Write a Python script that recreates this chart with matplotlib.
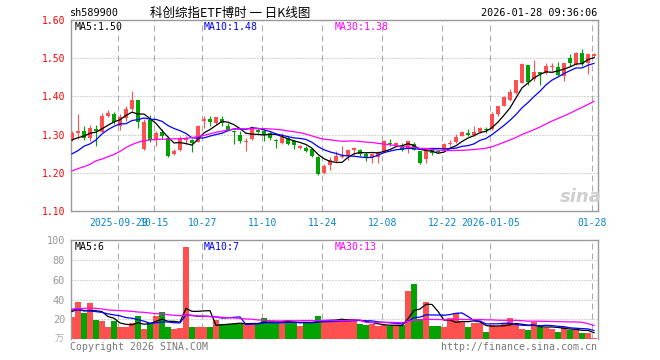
import matplotlib
matplotlib.use("Agg")
import matplotlib.pyplot as plt
import numpy as np

plt.rcParams['lines.scale_dashes'] = False

# ---------------- data ----------------
opens = [1.2887, 1.3043, 1.3096, 1.2904, 1.3148, 1.3078, 1.3496, 1.354, 1.3235, 1.3426,
         1.367, 1.390, 1.2626, 1.338, 1.2887, 1.3078, 1.2913, 1.2496, 1.2609, 1.2861,
         1.286, 1.2817, 1.336, 1.341, 1.331, 1.341, 1.3236, 1.3095, 1.300, 1.2817,
         1.289, 1.313, 1.310, 1.304, 1.287, 1.278, 1.291, 1.2826, 1.265, 1.265,
         1.261, 1.2417, 1.200, 1.2217, 1.2304, 1.2417, 1.2433, 1.2607, 1.259, 1.2503,
         1.2415, 1.2415, 1.258, 1.2782, 1.272, 1.2738, 1.2625, 1.2764, 1.2564, 1.2363,
         1.259, 1.2564, 1.2607, 1.2764, 1.280, 1.2974, 1.3035, 1.2991, 1.3061, 1.3148,
         1.3148, 1.3539, 1.3757, 1.3913, 1.4087, 1.4348, 1.4817, 1.4452, 1.4626, 1.4609,
         1.4757, 1.4757, 1.4539, 1.500, 1.4843, 1.5148, 1.487, 1.506]
highs = [1.3096, 1.354, 1.3235, 1.325, 1.325, 1.3565, 1.3643, 1.36, 1.354, 1.3757,
         1.4148, 1.390, 1.3409, 1.351, 1.31, 1.315, 1.297, 1.261, 1.297, 1.297,
         1.2887, 1.326, 1.348, 1.3496, 1.347, 1.348, 1.330, 1.312, 1.3087, 1.291,
         1.3225, 1.317, 1.316, 1.308, 1.289, 1.304, 1.2957, 1.285, 1.274, 1.2696,
         1.265, 1.2435, 1.2243, 1.2417, 1.2565, 1.2696, 1.2625, 1.2668, 1.2625, 1.2537,
         1.252, 1.2564, 1.287, 1.2887, 1.281, 1.278, 1.2843, 1.280, 1.258, 1.265,
         1.2625, 1.2607, 1.278, 1.285, 1.3017, 1.3104, 1.3148, 1.3217, 1.3191, 1.3191,
         1.3583, 1.3757, 1.4017, 1.4191, 1.4435, 1.487, 1.4817, 1.4957, 1.4626, 1.4887,
         1.487, 1.4904, 1.4887, 1.5104, 1.5165, 1.5235, 1.513, 1.513]
lows = [1.2843, 1.2887, 1.287, 1.2843, 1.2713, 1.306, 1.345, 1.328, 1.313, 1.3365,
        1.3626, 1.3165, 1.26, 1.28, 1.2696, 1.2887, 1.2426, 1.247, 1.2583, 1.2757,
        1.2557, 1.28, 1.318, 1.3217, 1.329, 1.3235, 1.3087, 1.2757, 1.277, 1.2564,
        1.286, 1.304, 1.283, 1.285, 1.265, 1.276, 1.274, 1.261, 1.2635, 1.254,
        1.2417, 1.194, 1.1957, 1.207, 1.226, 1.239, 1.2346, 1.2476, 1.2433, 1.230,
        1.2258, 1.2258, 1.2564, 1.2712, 1.2695, 1.2564, 1.252, 1.259, 1.223, 1.2258,
        1.2476, 1.252, 1.259, 1.271, 1.2783, 1.2957, 1.2974, 1.2974, 1.3043, 1.3043,
        1.313, 1.3478, 1.3739, 1.3887, 1.4061, 1.4348, 1.4296, 1.4409, 1.4304, 1.4583,
        1.467, 1.4539, 1.4409, 1.48, 1.4817, 1.48, 1.4583, 1.5043]
closes = [1.3043, 1.3096, 1.2904, 1.3183, 1.3096, 1.3478, 1.3565, 1.334, 1.346, 1.367,
          1.390, 1.332, 1.334, 1.286, 1.3043, 1.2974, 1.245, 1.2583, 1.2904, 1.2913,
          1.2774, 1.3235, 1.340, 1.334, 1.345, 1.3305, 1.313, 1.307, 1.2825, 1.2843,
          1.320, 1.308, 1.300, 1.291, 1.283, 1.294, 1.2765, 1.274, 1.2696, 1.2565,
          1.245, 1.1957, 1.2174, 1.2348, 1.2435, 1.245, 1.2607, 1.265, 1.2503, 1.2407,
          1.2494, 1.2546, 1.2843, 1.2756, 1.278, 1.2607, 1.2825, 1.2607, 1.2258, 1.2625,
          1.252, 1.2546, 1.2764, 1.278, 1.293, 1.3078, 1.300, 1.3078, 1.3165, 1.3122,
          1.3539, 1.3739, 1.3974, 1.4122, 1.4435, 1.4843, 1.4383, 1.4626, 1.4583, 1.4783,
          1.4775, 1.4565, 1.487, 1.487, 1.5148, 1.4843, 1.5104, 1.5104]
volumes = [22.7, 37.8, 26.7, 36.8, 19.3, 18.7, 12.6, 18.3, 12.6, 12.6,
           16, 23.4, 10.6, 16, 23.7, 27.4, 12.6, 10.2, 11.6, 93.4,
           12.6, 12.6, 12.6, 12.6, 19.3, 15.3, 15.3, 15.3, 15.3, 16.6,
           16.6, 15.3, 21.7, 16.6, 16.6, 16.6, 19.3, 16.6, 13.3, 17.6,
           16, 23.4, 19.3, 18.5, 19.3, 20, 20, 19.3, 15.7, 14,
           15, 13.3, 14.7, 13.3, 13.3, 14, 48.3, 56, 20.7, 37.3,
           13, 13, 12, 21, 26, 17.3, 12, 16, 16, 7.3,
           14, 13.3, 16.7, 21, 14, 10, 9, 17.3, 12.7, 11.7,
           10.7, 6.7, 12.7, 9.3, 10, 6, 6, 1]

# moving-average values before the window is full
ma5_head = [1.286, 1.292, 1.296, 1.3035]
ma10_head = [1.2496, 1.258, 1.2696, 1.2757, 1.286, 1.3017, 1.313, 1.3217, 1.328]
ma30_head = [1.205, 1.211, 1.216, 1.222, 1.2315, 1.236, 1.242, 1.248, 1.256, 1.266,
             1.274, 1.280, 1.284, 1.286, 1.2875, 1.288, 1.288, 1.289, 1.289, 1.290,
             1.292, 1.295, 1.298, 1.302, 1.306, 1.309, 1.312, 1.314, 1.315]
vma5_head = [28.0, 30.0, 28.5, 29.0]
vma10_head = [29.5, 30.0, 29.0, 28.5, 27.8, 27.0, 25.5, 24.5, 23.5]
vma30_head = [30.5, 30.8, 31.1, 31.5, 31.1, 30.5, 29.5, 29.1, 28.8, 28.5,
              28.1, 27.4, 27.1, 26.4, 25.8, 25.4, 24.7, 24.1, 23.7, 24.4,
              23.7, 23.4, 23.1, 22.7, 22.4, 22.1, 21.7, 21.4, 21.0]

tick_idx = [8, 14, 22, 32, 42, 52, 62, 70, 87]
tick_labels = ["2025-09-29", "10-15", "10-27", "11-10", "11-24", "12-08",
               "12-22", "2026-01-05", "01-28"]
price_ticks = [1.10, 1.20, 1.30, 1.40, 1.50, 1.60]
vol_ticks = [20, 40, 60, 80, 100]

code = "sh589900"
title = "科创综指ETF博时 一 日K线图"
stamp = "2026-01-28 09:36:06"
price_ma_labels = ["MA5:1.50", "MA10:1.48", "MA30:1.38"]
vol_ma_labels = ["MA5:6", "MA10:7", "MA30:13"]

# ---------------- helpers ----------------
def moving(vals, n, head):
    out = list(head)
    for i in range(len(head), len(vals)):
        out.append(float(np.mean(vals[i - n + 1:i + 1])))
    return np.array(out)

RED = "#ff5050"
GREEN = "#00a300"
GRID = "#aaaaaa"
BORDER = "#999999"
MONO = "DejaVu Sans Mono"
W, H = 660, 360

def fx(x):
    return x / W

def fy(y):
    return 1 - y / H

fig = plt.figure(figsize=(6.6, 3.6), dpi=100)
fig.patch.set_facecolor("white")

L, R = 70.5, 597.5
ax = fig.add_axes([fx(L), fy(211), (R - L) / W, (211 - 20) / H])
axv = fig.add_axes([fx(L), fy(339.1), (R - L) / W, (339.1 - 240.3) / H])

n = len(closes)
x = np.arange(n)
o = np.array(opens); c = np.array(closes); h = np.array(highs); lo = np.array(lows)
v = np.array(volumes)
up = c >= o
cols = [RED if u else GREEN for u in up]

for a in (ax, axv):
    a.set_xlim(-0.25, 87.58)
    for s in a.spines.values():
        s.set_color(BORDER)
        s.set_linewidth(1.0)
    for t in tick_idx:
        a.axvline(t - 0.28, color=GRID, lw=0.75, linestyle=(0, (4.3, 2.9)), zorder=0)

# price panel
ax.set_ylim(1.10, 1.60)
for p in price_ticks[1:-1]:
    ax.axhline(p, color=GRID, lw=0.75, linestyle=(0, (0.72, 1.44)), zorder=0)
ax.vlines(x, lo, h, colors=cols, lw=0.8, zorder=2)
body_bot = np.minimum(o, c)
body_h = np.maximum(np.abs(c - o), 0.0026)
ax.bar(x, body_h, bottom=body_bot, width=0.8, color=cols, linewidth=0, zorder=3)

ma5 = moving(c, 5, ma5_head)
ma10 = moving(c, 10, ma10_head)
ma30 = moving(c, 30, ma30_head)
ax.plot(x, ma5, color="black", lw=0.9, zorder=4)
ax.plot(x, ma10, color="#0000ff", lw=0.9, zorder=4)
ax.plot(x, ma30, color="#ff00ff", lw=0.9, zorder=4)

ax.set_yticks(price_ticks)
ax.set_yticklabels([f"{p:.2f}" for p in price_ticks], color="red",
                   fontsize=7, family=MONO)
ax.set_xticks([t - 0.28 for t in tick_idx])
ax.set_xticklabels(tick_labels, color="#0a84d0", fontsize=7, family=MONO)
ax.tick_params(axis="both", length=0, pad=4)
ax.tick_params(axis="x", pad=5)

# volume panel
axv.set_ylim(0, 100)
for t in vol_ticks[:-1]:
    axv.axhline(t, color=GRID, lw=0.75, linestyle=(0, (0.72, 1.44)), zorder=0)
axv.bar(x, v, width=0.85, color=cols, linewidth=0, zorder=2)
vma5 = moving(v, 5, vma5_head)
vma10 = moving(v, 10, vma10_head)
vma30 = moving(v, 30, vma30_head)
axv.plot(x, vma5, color="black", lw=0.9, zorder=4)
axv.plot(x, vma10, color="#0000ff", lw=0.9, zorder=4)
axv.plot(x, vma30, color="#ff00ff", lw=0.9, zorder=4)
axv.set_yticks(vol_ticks)
axv.set_yticklabels([str(t) for t in vol_ticks], color="#999999",
                    fontsize=7.4, family=MONO)
axv.set_xticks([])
axv.tick_params(axis="both", length=0, pad=4)
axv.spines["bottom"].set_visible(False)

# texts
fig.text(fx(70), fy(13), code, fontsize=7.3, family=MONO, va="center", ha="left")
fig.text(fx(150), fy(13), title, fontsize=9,
         family=["Noto Sans CJK SC", "DejaVu Sans"], va="center", ha="left")
fig.text(fx(597), fy(13), stamp, fontsize=7.3, family=MONO, va="center", ha="right")

ma_cols = ["black", "#0000ff", "#ff00ff"]
ma_x = [75, 204, 335]
for lab, cc, xx in zip(price_ma_labels, ma_cols, ma_x):
    fig.text(fx(xx), fy(27), lab, fontsize=7.1, family=MONO, color=cc,
             va="center", ha="left")
for lab, cc, xx in zip(vol_ma_labels, ma_cols, ma_x):
    fig.text(fx(xx), fy(247.5), lab, fontsize=7.1, family=MONO, color=cc,
             va="center", ha="left")

fig.text(fx(64), fy(339), "万", fontsize=6.5, color="#aaaaaa",
         family=["Noto Sans CJK SC", "DejaVu Sans"], va="center", ha="right")
fig.text(fx(70), fy(346.5), "Copyright 2026 SINA.COM", fontsize=7.1, family=MONO,
         color="#777777", va="center", ha="left")
fig.text(fx(597), fy(346.5), "http://finance.sina.com.cn", fontsize=7.1, family=MONO,
         color="#777777", va="center", ha="right")
fig.text(fx(581), fy(197), "sina", fontsize=13, fontweight="bold", style="italic",
         color="#cfcfcf", va="center", ha="center")

fig.savefig("out.png", dpi=100, facecolor="white")
